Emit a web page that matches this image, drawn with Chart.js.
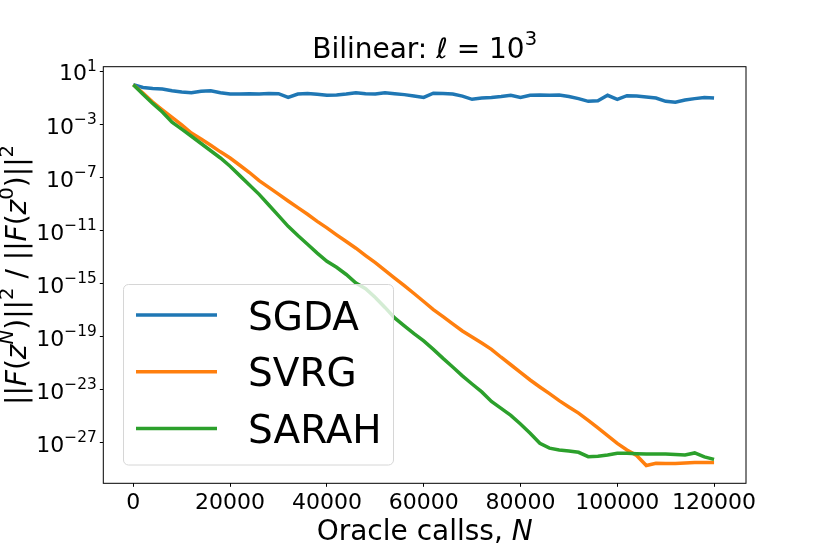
<!DOCTYPE html>
<html>
<head>
<meta charset="utf-8">
<script src="https://cdn.jsdelivr.net/npm/chart.js@4.4.0/dist/chart.umd.min.js"></script>
<style>
  body { margin: 0; background: #fff; }
  #wrap { width: 830px; height: 554px; }
</style>
</head>
<body>
<div id="wrap"><canvas id="myChart" width="830" height="554"></canvas></div>
<script>
const oracleCalls = [
  0, 2000, 4000, 6000, 8000, 10000, 12000, 14000, 16000, 18000,
  20000, 22000, 24000, 26000, 28000, 30000, 32000, 34000, 36000, 38000,
  40000, 42000, 44000, 46000, 48000, 50000, 52000, 54000, 56000, 58000,
  60000, 62000, 64000, 66000, 68000, 70000, 72000, 74000, 76000, 78000,
  80000, 82000, 84000, 86000, 88000, 90000, 92000, 94000, 96000, 98000,
  100000, 102000, 104000, 106000, 108000, 110000, 112000, 114000, 116000, 118000,
  120000,
];
const sgda = [
  1.0, 0.63, 0.52, 0.47, 0.35, 0.28, 0.25, 0.32, 0.35, 0.25,
  0.2, 0.2, 0.21, 0.2, 0.22, 0.21, 0.11, 0.2, 0.22, 0.19,
  0.16, 0.17, 0.2, 0.25, 0.21, 0.2, 0.25, 0.21, 0.18, 0.14,
  0.11, 0.23, 0.22, 0.2, 0.14, 0.08, 0.1, 0.11, 0.13, 0.16,
  0.11, 0.16, 0.17, 0.16, 0.17, 0.13, 0.09, 0.056, 0.063, 0.16,
  0.08, 0.15, 0.14, 0.12, 0.1, 0.056, 0.048, 0.07, 0.09, 0.11,
  0.1,
];
const svrg = [
  1.0, 2.4e-1, 5.0e-2, 1.3e-2, 3.4e-3, 9.3e-4, 2.3e-4, 8.1e-5, 2.7e-5, 8.7e-6,
  3.0e-6, 8.5e-7, 2.4e-7, 5.9e-8, 1.8e-8, 5.6e-9, 1.7e-9, 5.4e-10, 1.7e-10, 5.0e-11,
  1.6e-11, 4.8e-12, 1.5e-12, 4.7e-13, 1.3e-13, 3.8e-14, 1.0e-14, 2.6e-15, 7.1e-16, 1.8e-16,
  4.5e-17, 1.1e-17, 3.2e-18, 9.1e-19, 2.7e-19, 9.5e-20, 3.3e-20, 1.1e-20, 2.8e-21, 7.6e-22,
  2.0e-22, 5.4e-23, 1.6e-23, 5.0e-24, 1.5e-24, 5.0e-25, 1.7e-25, 4.8e-26, 1.3e-26, 3.5e-27,
  8.9e-28, 2.8e-28, 1.1e-28, 1.9e-29, 2.8e-29, 2.7e-29, 2.75e-29, 3.0e-29, 3.2e-29, 3.2e-29,
  3.2e-29,
];
const sarah = [
  1.0, 1.9e-1, 3.9e-2, 8.9e-3, 1.5e-3, 4.5e-4, 1.3e-4, 3.7e-5, 1.05e-5, 3.0e-6,
  7.1e-7, 1.4e-7, 2.8e-8, 5.4e-9, 8.5e-10, 1.35e-10, 2.1e-11, 4.2e-12, 9.3e-13, 2.0e-13,
  4.9e-14, 1.7e-14, 4.9e-15, 1.1e-15, 4.1e-16, 9.1e-17, 1.6e-17, 2.6e-18, 6.5e-19, 1.7e-19,
  4.8e-20, 1.1e-20, 2.3e-21, 5.2e-22, 1.1e-22, 2.7e-23, 6.8e-24, 1.3e-24, 3.9e-25, 1.15e-25,
  2.6e-26, 5.2e-27, 9.1e-28, 3.9e-28, 2.8e-28, 2.4e-28, 1.9e-28, 8.9e-29, 9.5e-29, 1.2e-28,
  1.6e-28, 1.6e-28, 1.5e-28, 1.4e-28, 1.4e-28, 1.4e-28, 1.3e-28, 1.2e-28, 1.7e-28, 8.5e-29,
  5.5e-29,
];
const xTickValues = [0, 20000, 40000, 60000, 80000, 100000, 120000];
const yTickValues = [1e1, 1e-3, 1e-7, 1e-11, 1e-15, 1e-19, 1e-23, 1e-27];
const yTickExponents = ["1", "−3", "−7", "−11", "−15", "−19", "−23", "−27"];
const seriesNames = ["SGDA", "SVRG", "SARAH"];
const seriesColors = ["#1f77b4", "#ff7f0e", "#2ca02c"];

// text pieces: [text, italic, superscript]
const titleParts = [["Bilinear: ", 0, 0], ["ℓ", 1, 0], [" = 10", 0, 0], ["3", 0, 1]];
const xLabelParts = [["Oracle callss, ", 0, 0], ["N", 1, 0]];
const yLabelParts = [
  ["||", 0, 0], ["F", 1, 0], ["(", 0, 0], ["z", 1, 0], ["N", 1, 1], [")||", 0, 0], ["2", 0, 1],
  [" / ", 0, 0],
  ["||", 0, 0], ["F", 1, 0], ["(", 0, 0], ["z", 1, 0], ["0", 0, 1], [")||", 0, 0], ["2", 0, 1],
];

const FONT = "DejaVu Sans";

function points(ys) {
  return oracleCalls.map((x, i) => ({ x: x, y: ys[i] }));
}

function partFont(p, size) {
  const s = p[2] ? size * 0.7 : size;
  return (p[1] ? "italic " : "") + s + "px '" + FONT + "'";
}

// draws a mixed italic / superscript string; align is 0 (left), 0.5 (centre) or 1 (right)
function drawParts(c, parts, size, x, y, align) {
  let w = 0;
  for (const p of parts) {
    c.font = partFont(p, size);
    w += c.measureText(p[0]).width;
  }
  let cx = x - w * align;
  c.textAlign = "left";
  c.textBaseline = "alphabetic";
  for (const p of parts) {
    c.font = partFont(p, size);
    c.fillText(p[0], cx, p[2] ? y - size * 0.45 : y);
    cx += c.measureText(p[0]).width;
  }
}

// frame, title, axis labels, log tick labels and the legend inside the axes
const extras = {
  id: "extras",
  afterDatasetsDraw(chart) {
    const { ctx, chartArea: a } = chart;
    ctx.save();
    ctx.strokeStyle = "#000";
    ctx.lineWidth = 1;
    ctx.strokeRect(a.left, a.top, a.right - a.left, a.bottom - a.top);

    const mid = (a.left + a.right) / 2;
    ctx.fillStyle = "#000";
    drawParts(ctx, titleParts, 28, mid, 58, 0.5);
    drawParts(ctx, xLabelParts, 28, mid, 540, 0.5);

    const ys = chart.scales.y;
    yTickValues.forEach((v, i) => {
      const py = ys.getPixelForValue(v);
      drawParts(ctx, [["10", 0, 0], [yTickExponents[i], 0, 1]], 22, a.left - 6.5, py + 9, 1);
    });

    ctx.save();
    ctx.translate(26, (a.top + a.bottom) / 2);
    ctx.rotate(-Math.PI / 2);
    drawParts(ctx, yLabelParts, 28, 0, 0, 0.5);
    ctx.restore();

    // legend box
    ctx.beginPath();
    ctx.roundRect(123.5, 284.5, 270, 180.5, 5);
    ctx.fillStyle = "rgba(255,255,255,0.8)";
    ctx.fill();
    ctx.strokeStyle = "#d6d6d6";
    ctx.lineWidth = 1;
    ctx.stroke();

    const ds = chart.data.datasets;
    ctx.font = "39px '" + FONT + "'";
    ctx.textAlign = "left";
    ctx.textBaseline = "alphabetic";
    for (let i = 0; i < ds.length; i++) {
      const y = 315 + i * 56.7;
      ctx.strokeStyle = ds[i].borderColor;
      ctx.lineWidth = 3.5;
      ctx.beginPath();
      ctx.moveTo(136, y);
      ctx.lineTo(217, y);
      ctx.stroke();
      ctx.fillStyle = "#000";
      ctx.fillText(ds[i].label, 248, y + 14.5);
    }
    ctx.restore();
  },
};

const ctx = document.getElementById("myChart").getContext("2d");
const myChart = new Chart(ctx, {
  type: "line",
  data: {
    datasets: [
      { label: seriesNames[0], data: points(sgda), borderColor: seriesColors[0], order: 2 },
      { label: seriesNames[1], data: points(svrg), borderColor: seriesColors[1], order: 1 },
      { label: seriesNames[2], data: points(sarah), borderColor: seriesColors[2], order: 0 },
    ],
  },
  options: {
    responsive: false,
    animation: false,
    events: [],
    datasets: {
      line: { borderWidth: 3.5, pointRadius: 0, tension: 0, fill: false },
    },
    layout: { padding: { left: 0, right: 84, top: 66.7, bottom: 0 } },
    plugins: {
      legend: { display: false },
      title: { display: false },
      tooltip: { enabled: false },
    },
    scales: {
      x: {
        type: "linear",
        bounds: "data",
        min: -6200,
        max: 126600,
        afterBuildTicks: (s) => {
          s.ticks = xTickValues.map((v) => ({ value: v }));
        },
        afterFit: (s) => {
          s.height = 70.7;
        },
        grid: { drawOnChartArea: false, drawTicks: true, tickLength: 3.5, color: "#000" },
        border: { display: false },
        ticks: {
          autoSkip: false,
          maxRotation: 0,
          padding: 3,
          color: "#000",
          font: { family: FONT, size: 22 },
          callback: (v) => String(v),
        },
      },
      y: {
        type: "logarithmic",
        bounds: "data",
        min: 8.7e-31,
        max: 23,
        afterBuildTicks: (s) => {
          s.ticks = yTickValues.map((v) => ({ value: v }));
        },
        afterFit: (s) => {
          s.width = 103.3;
        },
        grid: { drawOnChartArea: false, drawTicks: true, tickLength: 3.5, color: "#000" },
        border: { display: false },
        ticks: {
          autoSkip: false,
          padding: 3,
          color: "rgba(0,0,0,0)",
          font: { family: FONT, size: 22 },
          callback: (v, i) => "10^" + yTickExponents[i],
        },
      },
    },
  },
  plugins: [extras],
});
</script>
</body>
</html>
